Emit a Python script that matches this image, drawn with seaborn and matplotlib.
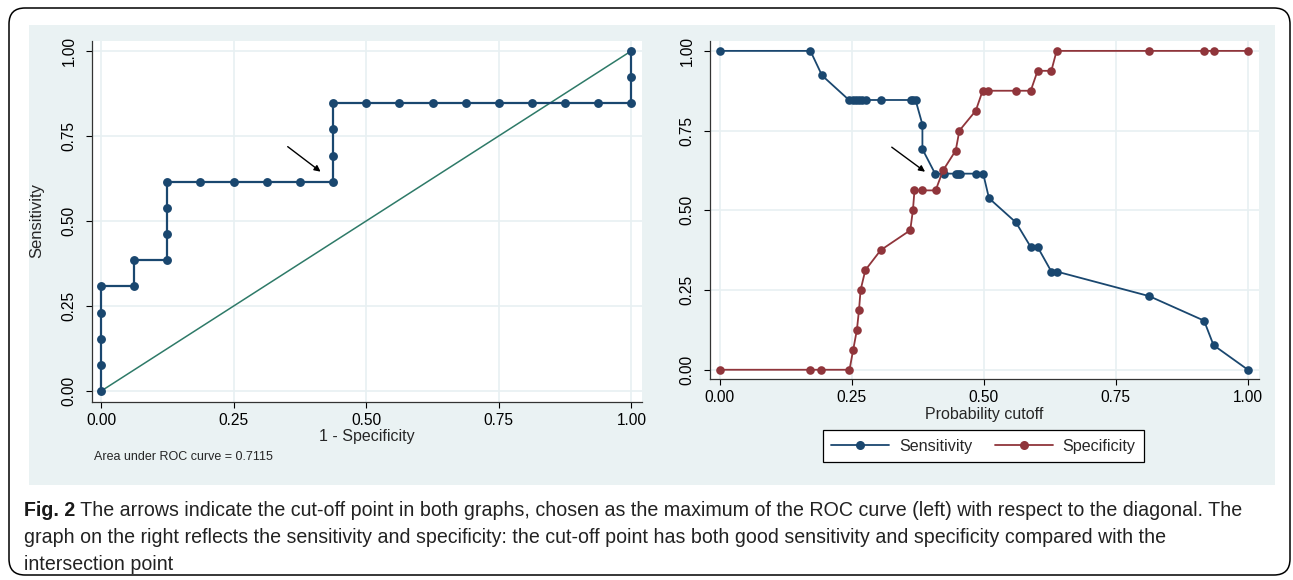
import matplotlib
matplotlib.use("Agg")
import matplotlib.pyplot as plt
import seaborn as sns
import pandas as pd
from matplotlib.patches import FancyBboxPatch, Rectangle
from matplotlib.transforms import IdentityTransform
from matplotlib.lines import Line2D

# ---------------- data ----------------
# ROC curve (left)
roc_fpr = [0, 0, 0, 0, 0, 0.0625, 0.0625, 0.125, 0.125, 0.125, 0.125,
           0.1875, 0.25, 0.3125, 0.375, 0.4375, 0.4375, 0.4375, 0.4375,
           0.5, 0.5625, 0.625, 0.6875, 0.75, 0.8125, 0.875, 0.9375, 1.0, 1.0, 1.0]
roc_tpr = [0, 0.077, 0.154, 0.231, 0.308, 0.308, 0.385, 0.385, 0.462, 0.538, 0.615,
           0.615, 0.615, 0.615, 0.615, 0.615, 0.692, 0.769, 0.846,
           0.846, 0.846, 0.846, 0.846, 0.846, 0.846, 0.846, 0.846, 0.846, 0.923, 1.0]
ref_x = [0, 1]
ref_y = [0, 1]
auc_text = "Area under ROC curve = 0.7115"

# Sensitivity / specificity vs cutoff (right)
sens_cut = [0, 0.172, 0.194, 0.245, 0.252, 0.258, 0.264, 0.270, 0.277, 0.305,
            0.362, 0.367, 0.371, 0.384, 0.384, 0.408, 0.424, 0.447, 0.451, 0.455,
            0.485, 0.499, 0.510, 0.561, 0.589, 0.602, 0.628, 0.638, 0.813, 0.917,
            0.935, 1.0]
sens_val = [1.0, 1.0, 0.923, 0.846, 0.846, 0.846, 0.846, 0.846, 0.846, 0.846,
            0.846, 0.846, 0.846, 0.769, 0.692, 0.615, 0.615, 0.615, 0.615, 0.615,
            0.615, 0.615, 0.538, 0.462, 0.385, 0.385, 0.308, 0.308, 0.231, 0.154,
            0.077, 0.0]
spec_cut = [0, 0.172, 0.193, 0.246, 0.253, 0.260, 0.264, 0.267, 0.276, 0.305,
            0.361, 0.366, 0.369, 0.384, 0.409, 0.423, 0.447, 0.454, 0.485, 0.498,
            0.509, 0.561, 0.589, 0.602, 0.628, 0.638, 0.813, 0.917, 0.935, 1.0]
spec_val = [0, 0, 0, 0, 0.0625, 0.125, 0.1875, 0.25, 0.3125, 0.375,
            0.4375, 0.5, 0.5625, 0.5625, 0.5625, 0.625, 0.6875, 0.75, 0.8125, 0.875,
            0.875, 0.875, 0.875, 0.9375, 0.9375, 1.0, 1.0, 1.0, 1.0, 1.0]
series_names = ["Sensitivity", "Specificity"]

tick_vals = [0, 0.25, 0.5, 0.75, 1.0]
tick_labels = ["0.00", "0.25", "0.50", "0.75", "1.00"]

caption_bold = "Fig. 2"
caption_l1 = " The arrows indicate the cut-off point in both graphs, chosen as the maximum of the ROC curve (left) with respect to the diagonal. The"
caption_l2 = "graph on the right reflects the sensitivity and specificity: the cut-off point has both good sensitivity and specificity compared with the"
caption_l3 = "intersection point"

# ---------------- style ----------------
sns.set_style("white")
plt.rcParams["font.family"] = ["Liberation Sans", "DejaVu Sans"]

NAVY = "#1a476f"
MAROON = "#90353b"
TEAL = "#2e7a68"
BG = "#eaf2f3"
GRID = "#e8f0f2"

W, H = 1293, 580
fig = plt.figure(figsize=(W / 100, H / 100), dpi=100)

# outer rounded frame and graph-region background (pixel coords)
frame = FancyBboxPatch((9, H - 575), 1281, 567, boxstyle="round,pad=0,rounding_size=16",
                       transform=IdentityTransform(), facecolor="white",
                       edgecolor="black", lw=1.1, zorder=-3)
fig.patches.append(frame)
bg = Rectangle((29, H - 485), 1246, 460, transform=IdentityTransform(),
               facecolor=BG, edgecolor="none", zorder=-2)
fig.patches.append(bg)

ax1 = fig.add_axes([92 / W, (H - 402) / H, 550 / W, 361 / H])
ax2 = fig.add_axes([710 / W, (H - 379) / H, 549 / W, 338 / H])

for ax in (ax1, ax2):
    ax.set_facecolor("white")
    for s in ("top", "right"):
        ax.spines[s].set_visible(False)
    for s in ("left", "bottom"):
        ax.spines[s].set_color("#333333")
        ax.spines[s].set_linewidth(0.9)
    ax.set_xticks(tick_vals)
    ax.set_xticklabels(tick_labels)
    ax.set_yticks(tick_vals)
    ax.set_yticklabels(tick_labels, rotation=90, va="center")
    ax.tick_params(axis="both", which="both", labelsize=11.2, colors="black",
                   length=4.5, width=0.8, direction="out", bottom=True, left=True)
    ax.tick_params(axis="x", pad=3.5)
    ax.tick_params(axis="y", pad=6.5)
    ax.grid(True, color=GRID, lw=1.2)
    ax.set_axisbelow(True)

# ---- left: ROC ----
roc_df = pd.DataFrame({"fpr": roc_fpr, "tpr": roc_tpr})
ref_df = pd.DataFrame({"x": ref_x, "y": ref_y})
sns.lineplot(data=ref_df, x="x", y="y", ax=ax1, color=TEAL, lw=1.1,
             estimator=None, sort=False, zorder=2)
sns.lineplot(data=roc_df, x="fpr", y="tpr", ax=ax1, color=NAVY, lw=1.6,
             marker="o", markersize=6.4, markeredgewidth=0, estimator=None,
             sort=False, zorder=3)
ax1.set_xlim(-0.017, 1.020)
ax1.set_ylim(-0.032, 1.029)
ax1.set_xlabel("1 - Specificity", fontsize=11.5)
ax1.set_ylabel("Sensitivity", fontsize=12)
ax1.xaxis.set_label_coords(0.5, -0.074)
ax1.yaxis.set_label_coords(-0.086, 0.504)
ax1.annotate("", xy=(0.414, 0.645), xytext=(0.352, 0.7185),
             arrowprops=dict(arrowstyle="-|>", color="black", lw=1.0,
                             mutation_scale=9, shrinkA=0, shrinkB=0))
ax1.text((94 - 92) / 550, (402 - 457) / 361, auc_text, transform=ax1.transAxes,
         fontsize=9, ha="left", va="center")

# ---- right: sensitivity/specificity ----
ss_df = pd.concat([
    pd.DataFrame({"cutoff": sens_cut, "value": sens_val, "series": series_names[0]}),
    pd.DataFrame({"cutoff": spec_cut, "value": spec_val, "series": series_names[1]}),
], ignore_index=True)
sns.lineplot(data=ss_df, x="cutoff", y="value", hue="series", ax=ax2,
             palette=[NAVY, MAROON], lw=1.3, marker="o", markersize=6.2,
             markeredgewidth=0, estimator=None, sort=False, zorder=3)
ax2.set_xlim(-0.018, 1.021)
ax2.set_ylim(-0.029, 1.031)
ax2.set_xlabel("Probability cutoff", fontsize=11.5)
ax2.set_ylabel("")
ax2.xaxis.set_label_coords(0.5, -0.082)
ax2.annotate("", xy=(0.389, 0.621), xytext=(0.326, 0.698),
             arrowprops=dict(arrowstyle="-|>", color="black", lw=1.0,
                             mutation_scale=9, shrinkA=0, shrinkB=0))
ax2.get_legend().remove()

handles = [Line2D([], [], color=NAVY, lw=1.3, marker="o", markersize=6.5, markeredgewidth=0),
           Line2D([], [], color=MAROON, lw=1.3, marker="o", markersize=6.5, markeredgewidth=0)]
leg = fig.legend(handles, series_names, loc="center",
                 bbox_to_anchor=(983.5 / W, (H - 446) / H), ncol=2, fontsize=11.6,
                 frameon=True, fancybox=False, edgecolor="black", framealpha=1,
                 handlelength=3.6, handletextpad=0.6, columnspacing=1.4,
                 borderpad=0.5)
leg.get_frame().set_linewidth(0.9)

# ---- caption ----
cap_family = ["Liberation Sans Narrow", "Liberation Sans", "DejaVu Sans"]
fs = 12
t1 = fig.text(24 / W, (H - 516) / H, caption_bold, fontsize=fs, fontweight="bold",
              family=cap_family, color="#1a1a1a", ha="left", va="baseline")
t2 = fig.text(0, 0, caption_l1, fontsize=fs, family=cap_family, color="#222222",
              ha="left", va="baseline")
fig.canvas.draw()
r = fig.canvas.get_renderer()
w_total = t1.get_window_extent(r).width + t2.get_window_extent(r).width
scale = 1218 / w_total
fs = fs * scale
t1.set_fontsize(fs)
t2.set_fontsize(fs)
fig.canvas.draw()
x_after = (t1.get_window_extent(r).x1) / W
t2.set_position((x_after, (H - 516) / H))
fig.text(24 / W, (H - 543) / H, caption_l2, fontsize=fs, family=cap_family,
         color="#222222", ha="left", va="baseline")
fig.text(24 / W, (H - 570) / H, caption_l3, fontsize=fs, family=cap_family,
         color="#222222", ha="left", va="baseline")

fig.savefig("out.png", dpi=100)
